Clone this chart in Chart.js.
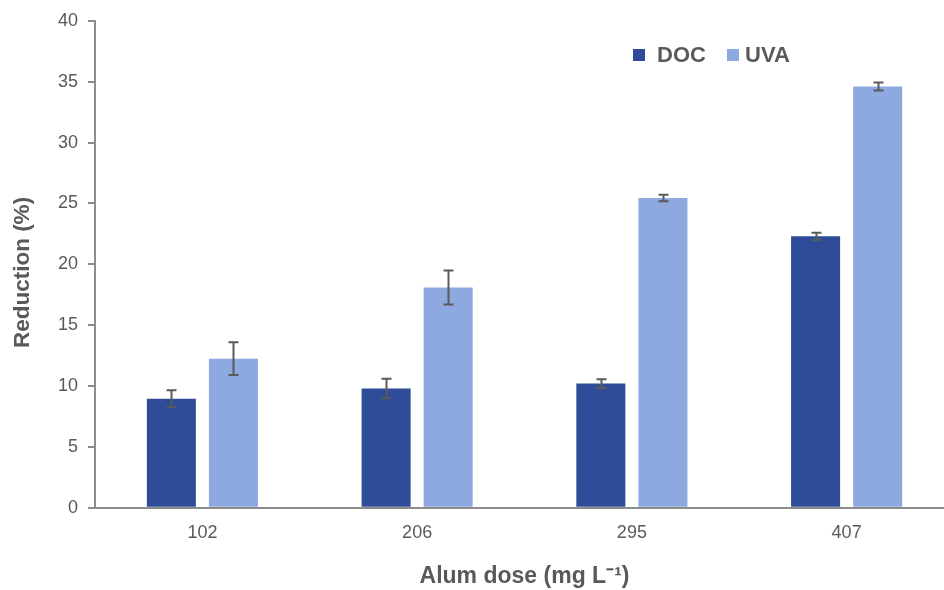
<!DOCTYPE html>
<html>
<head>
<meta charset="utf-8">
<script src="https://cdn.jsdelivr.net/npm/chart.js@4/dist/chart.umd.min.js"></script>
<style>
html,body{margin:0;padding:0;background:#fff;overflow:hidden;width:944px;height:590px;}
#wrap{position:absolute;left:0;top:0;width:958px;height:590px;}
</style>
</head>
<body>
<div id="wrap"><canvas id="c" width="958" height="590"></canvas></div>
<script>
const categories = ["102", "206", "295", "407"];
const docValues = [8.95, 9.8, 10.2, 22.3];
const docErrors = [0.7, 0.8, 0.35, 0.3];
const uvaValues = [12.25, 18.1, 25.45, 34.6];
const uvaErrors = [1.35, 1.4, 0.27, 0.33];
const seriesNames = ["DOC", "UVA"];
const yTicks = [0, 5, 10, 15, 20, 25, 30, 35, 40];
const yTitle = "Reduction (%)";
const xTitle = "Alum dose (mg L\u207B\u00B9)";

const FONT = "'Liberation Sans', Arial, sans-serif";
const errorsBySeries = [docErrors, uvaErrors];

const errorBars = {
  id: 'errorBars',
  afterDatasetsDraw(chart) {
    const ctx = chart.ctx;
    const ys = chart.scales.y;
    ctx.save();
    ctx.strokeStyle = '#5a5a5a';
    ctx.lineWidth = 2;
    chart.data.datasets.forEach((ds, i) => {
      const meta = chart.getDatasetMeta(i);
      meta.data.forEach((el, j) => {
        const v = ds.data[j];
        const e = errorsBySeries[i][j];
        const x = Math.round(el.x) + 0.5;
        const yt = ys.getPixelForValue(v + e);
        const yb = ys.getPixelForValue(v - e);
        ctx.beginPath();
        ctx.moveTo(x, yt); ctx.lineTo(x, yb);
        ctx.moveTo(x - 5, yt); ctx.lineTo(x + 5, yt);
        ctx.moveTo(x - 5, yb); ctx.lineTo(x + 5, yb);
        ctx.stroke();
      });
    });
    ctx.restore();
  }
};

const customLegend = {
  id: 'customLegend',
  afterDraw(chart) {
    const ctx = chart.ctx;
    ctx.save();
    ctx.font = "bold 22px " + FONT;
    ctx.textBaseline = 'middle';
    const yc = 55;
    const starts = [633, 727];
    chart.data.datasets.forEach((ds, i) => {
      const x = starts[i];
      ctx.fillStyle = ds.backgroundColor;
      ctx.fillRect(x, yc - 6, 12, 12);
      ctx.fillStyle = '#595959';
      ctx.fillText(ds.label, x + (i === 0 ? 24 : 18), yc + 1);
    });
    // y-axis title (offset slightly below axis centre, as in the reference)
    ctx.translate(22.5, 272.5);
    ctx.rotate(-Math.PI / 2);
    ctx.font = "bold 22.5px " + FONT;
    ctx.textAlign = 'center';
    ctx.fillStyle = '#595959';
    ctx.fillText(yTitle, 0, 0);
    ctx.restore();
  }
};

new Chart(document.getElementById('c'), {
  type: 'bar',
  data: {
    labels: categories,
    datasets: [
      { label: seriesNames[0], data: docValues, backgroundColor: '#2E4C98' },
      { label: seriesNames[1], data: uvaValues, backgroundColor: '#8DA9DF' }
    ]
  },
  options: {
    responsive: false,
    animation: false,
    devicePixelRatio: 1,
    layout: { padding: { top: 12, right: 4, left: 48, bottom: 0 } },
    datasets: { bar: { barPercentage: 0.79, categoryPercentage: 0.578 } },
    plugins: { legend: { display: false }, tooltip: { enabled: false } },
    scales: {
      x: {
        grid: { display: false, drawTicks: false },
        border: { display: true, color: '#8c8c8c', width: 2 },
        ticks: { color: '#595959', font: { family: FONT, size: 18 }, padding: 14 },
        title: { display: true, text: xTitle, color: '#595959',
                 font: { family: FONT, size: 23, weight: 'bold' }, padding: { top: 5, bottom: 0 } }
      },
      y: {
        min: 0, max: 40,
        afterBuildTicks(axis) { axis.ticks = yTicks.map(v => ({ value: v })); },
        grid: { display: true, drawOnChartArea: false, drawTicks: true, tickLength: 7, color: '#8c8c8c', lineWidth: 2 },
        border: { display: true, color: '#8c8c8c', width: 2 },
        ticks: { color: '#595959', font: { family: FONT, size: 18 }, padding: 10 },
        title: { display: false }
      }
    }
  },
  plugins: [errorBars, customLegend]
});
</script>
</body>
</html>
